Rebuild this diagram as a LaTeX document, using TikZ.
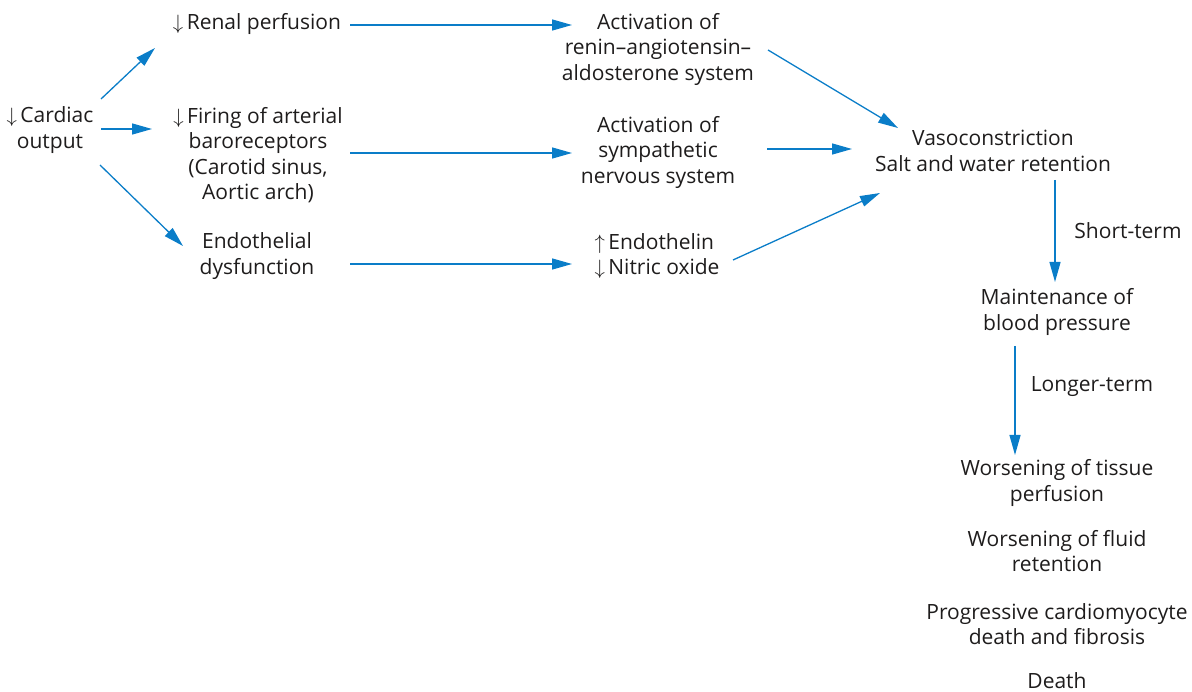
\documentclass[tikz,border=0pt]{standalone}
\usepackage{fontspec}
\setmainfont{Open Sans}
\usetikzlibrary{arrows.meta}
\definecolor{arrblue}{RGB}{10,125,200}
\definecolor{txt}{RGB}{30,28,28}
\begin{document}
\begin{tikzpicture}[x=1pt,y=-1pt,
  lbl/.style={inner sep=0pt,align=center,text=txt,font=\fontsize{21}{25.5}\selectfont},
  conn/.style={draw=arrblue,line width=1.3pt,-{Triangle[length=20pt,width=11pt]}}]
\useasboundingbox (0,0) rectangle (1192,692);
\node[lbl] (card) at (50,130) {$\downarrow$\,Cardiac\\output};
\node[lbl] (renal) at (257,24) {$\downarrow$\,Renal perfusion};
\node[lbl] (firing) at (258,155) {$\downarrow$\,Firing of arterial\\baroreceptors\\(Carotid sinus,\\Aortic arch)};
\node[lbl] (endo) at (257,256) {Endothelial\\dysfunction};
\node[lbl] (raas) at (658,49) {Activation of\\renin–angiotensin–\\aldosterone system};
\node[lbl] (symp) at (658,152) {Activation of\\sympathetic\\nervous system};
\node[lbl,align=left] (endn) at (657,256) {$\uparrow$\,Endothelin\\$\downarrow$\,Nitric oxide};
\node[lbl] (vaso) at (993,151) {Vasoconstriction\\Salt and water retention};
\node[lbl] (short) at (1128,231) {Short-term};
\node[lbl] (maint) at (1057,312) {Maintenance of\\blood pressure};
\node[lbl] (longer) at (1092,387) {Longer-term};
\node[lbl] (wt) at (1057,483) {Worsening of tissue\\perfusion};
\node[lbl] (wf) at (1057,551) {Worsening of fluid\\retention};
\node[lbl] (prog) at (1057,624) {Progressive cardiomyocyte\\death and fibrosis};
\node[lbl] (death) at (1057,681) {Death};

\draw[conn] ([shift={(51,-31)}]card.center) -- ([shift={(-102,24)}]renal.center);
\draw[conn] ([shift={(51,-1)}]card.center) -- ([shift={(-106,-26)}]firing.center);
\draw[conn] ([shift={(50,35)}]card.center) -- ([shift={(-74,-10)}]endo.center);
\draw[conn] ([shift={(93,1)}]renal.center) -- ([shift={(-86,-24)}]raas.center);
\draw[conn] ([shift={(92,-2)}]firing.center) -- ([shift={(-86,1)}]symp.center);
\draw[conn] ([shift={(93,8)}]endo.center) -- ([shift={(-85,8)}]endn.center);
\draw[conn] ([shift={(110,1)}]raas.center) -- ([shift={(-95,-23)}]vaso.center);
\draw[conn] ([shift={(109,-3)}]symp.center) -- ([shift={(-141,-2)}]vaso.center);
\draw[conn] ([shift={(76,4)}]endn.center) -- ([shift={(-113,42)}]vaso.center);
\draw[conn] ([shift={(62,29)}]vaso.center) -- ([shift={(-2,-30)}]maint.center);
\draw[conn] ([shift={(-42,34)}]maint.center) -- ([shift={(-42,-28)}]wt.center);
\end{tikzpicture}
\end{document}
